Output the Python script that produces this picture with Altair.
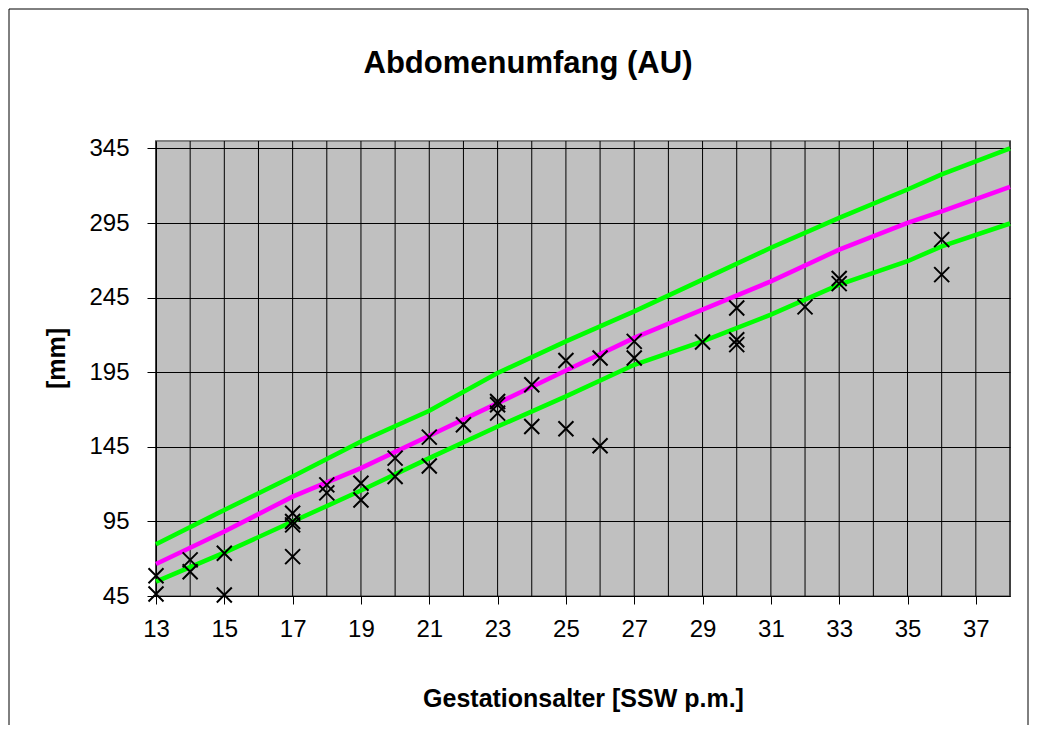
import altair as alt
import pandas as pd

TITLE = "Abdomenumfang (AU)"
X_TITLE = "Gestationsalter [SSW p.m.]"
Y_TITLE = "[mm]"

# reference curves
curve_weeks = [13, 15, 17, 19, 21, 23, 25, 27, 29, 31, 33, 35, 36, 38]
upper = [79.7, 102.7, 125.1, 148.6, 169.2, 194.5, 215.7, 235.8, 257.1, 278.4, 298.5, 317.5, 327.6, 345.0]
median = [66.5, 88.2, 111.6, 130.7, 152.4, 174.3, 196.2, 218.0, 237.0, 255.9, 277.2, 295.1, 302.9, 319.3]
lower = [54.6, 74.1, 94.9, 115.7, 137.4, 158.6, 178.8, 200.0, 215.7, 233.6, 253.7, 269.4, 279.4, 294.7]

# observations
obs_weeks = [13, 13, 14, 14, 15, 15, 17, 17, 17, 17, 18, 18, 19, 19, 20, 20, 21, 21, 22,
             23, 23, 23, 24, 24, 25, 25, 26, 26, 27, 27, 29, 30, 30, 30, 32, 33, 33, 36, 36]
obs_mm = [46.3, 58.6, 69.2, 61.3, 73.7, 45.7, 100.5, 94.9, 92.7, 71.4, 119.5, 114.1, 120.6, 109.4,
          137.4, 125.1, 151.5, 132.1, 159.8, 175.4, 173.2, 167.6, 186.6, 158.6, 202.9, 157.1,
          204.5, 145.7, 215.7, 204.5, 215.3, 238.1, 216.8, 213.5, 238.8, 257.8, 254.4, 283.9, 260.4]

x_ticks = list(range(13, 38, 2))
x_grid = list(range(13, 39))
y_ticks = list(range(45, 346, 50))

series_names = ["upper", "median", "lower"]
series_colors = ["#00FF00", "#FF00FF", "#00FF00"]

rows = []
for name, vals in zip(series_names, [upper, median, lower]):
    for w, v in zip(curve_weeks, vals):
        rows.append({"series": name, "week": w, "mm": v})
curves = pd.DataFrame(rows)
obs = pd.DataFrame({"week": obs_weeks, "mm": obs_mm})
grid = pd.DataFrame({"week": x_grid})

FONT = "Liberation Sans"

xs = alt.Scale(domain=[13, 38], nice=False, zero=False)
ys = alt.Scale(domain=[45, 350], nice=False, zero=False)

xaxis = alt.Axis(values=x_ticks, grid=False, title=X_TITLE, titleFont=FONT, titleFontSize=25,
                 titleFontWeight="bold", titleColor="black", titleY=110, titleBaseline="alphabetic",
                 labelFont=FONT, labelFontSize=24, labelColor="black", labelPadding=13,
                 labelFlush=False, labelOverlap=False,
                 tickSize=8, tickColor="black", domainColor="black", domainWidth=1)
yaxis = alt.Axis(values=y_ticks, grid=True, gridColor="black", gridWidth=1, title=Y_TITLE,
                 titleFont=FONT, titleFontSize=25, titleFontWeight="bold", titleColor="black",
                 titleAngle=-90, titleX=-100, titleY=217, titleAlign="center", titleBaseline="middle",
                 labelFont=FONT, labelFontSize=24, labelColor="black", labelPadding=18,
                 labelFlush=False, labelOverlap=False,
                 tickSize=9, tickColor="black", domainColor="black", domainWidth=1)

grid_layer = alt.Chart(grid).mark_rule(color="black", strokeWidth=1).encode(
    x=alt.X("week:Q", scale=xs, axis=xaxis)
)

lines = alt.Chart(curves).mark_line(strokeWidth=4.5).encode(
    x=alt.X("week:Q", scale=xs, axis=xaxis),
    y=alt.Y("mm:Q", scale=ys, axis=yaxis),
    color=alt.Color("series:N", scale=alt.Scale(domain=series_names, range=series_colors), legend=None),
    detail="series:N",
)

points = alt.Chart(obs).mark_point(
    shape="M-1,-1L1,1M-1,1L1,-1", filled=False, stroke="black", strokeWidth=2, size=225, opacity=1
).encode(
    x=alt.X("week:Q", scale=xs, axis=xaxis),
    y=alt.Y("mm:Q", scale=ys, axis=yaxis),
)

title_layer = alt.Chart(alt.Data(values=[{"t": TITLE}])).mark_text(
    font=FONT, fontSize=31, fontWeight="bold", color="black", align="center", baseline="alphabetic"
).encode(x=alt.value(372), y=alt.value(-68), text="t:N")

frame = alt.Chart(alt.Data(values=[{"f": 1}])).mark_rect(
    fillOpacity=0, stroke="black", strokeWidth=1
).encode(x=alt.value(-147), x2=alt.value(872), y=alt.value(-132), y2=alt.value(700))

chart = alt.layer(grid_layer, lines, points, title_layer, frame).properties(
    width=854, height=455,
    autosize=alt.AutoSizeParams(type="none"),
    padding={"left": 148, "top": 133, "right": 19, "bottom": 129},
    background="white",
).configure_view(fill="#C0C0C0", stroke="#808080", strokeWidth=2)

chart.save("out.html", embed_options={"renderer": "svg", "actions": False})
